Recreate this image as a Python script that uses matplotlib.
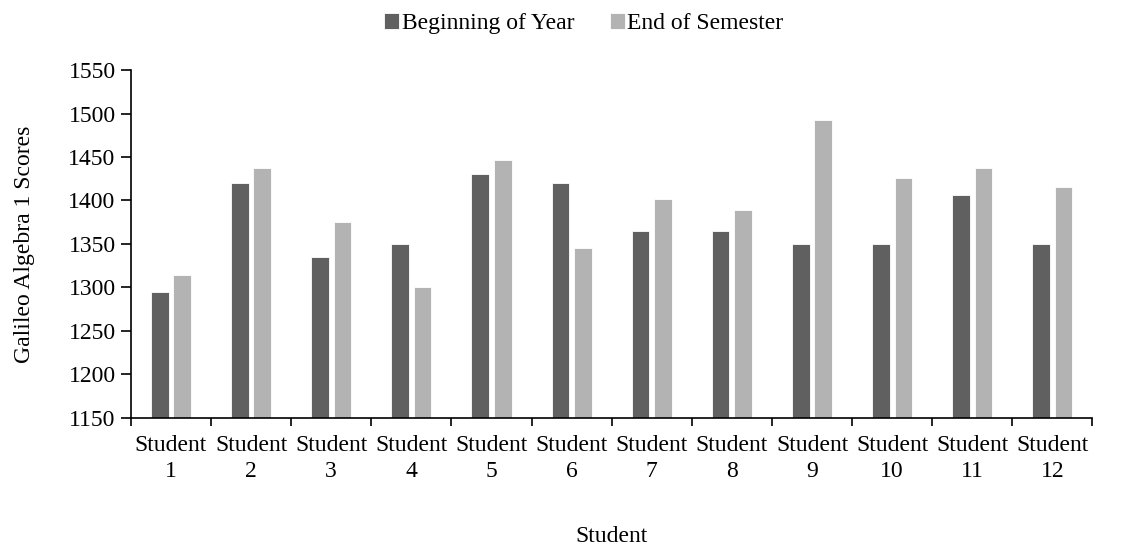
import numpy as np
import matplotlib
matplotlib.use('Agg')
import matplotlib.pyplot as plt

plt.rcParams['font.family'] = ['Liberation Serif', 'DejaVu Serif']

students = [f'Student\n{n}' for n in range(1, 13)]
beginning = [1295, 1420, 1335, 1350, 1431, 1420, 1365, 1365, 1350, 1350, 1406, 1350]
end_sem = [1314, 1437, 1375, 1300, 1447, 1345, 1402, 1389, 1492, 1426, 1437, 1415]
y_ticks = list(range(1150, 1551, 50))

fs = 17

fig = plt.figure(figsize=(11.38, 5.47), dpi=100)
ax = fig.add_axes([0.115, 0.236, 0.845, 0.636])

x = np.arange(len(students))
w = 0.22
ax.bar(x - 0.14, beginning, w, color='#606060', edgecolor='white', linewidth=0.6,
       label='Beginning of Year')
ax.bar(x + 0.14, end_sem, w, color='#b3b3b3', edgecolor='white', linewidth=0.6,
       label='End of Semester')

ax.set_ylim(1150, 1550)
ax.set_xlim(-0.5, len(students) - 0.5)
ax.set_yticks(y_ticks)
ax.tick_params(axis='y', labelsize=fs, direction='out', length=7, width=1.2, pad=4)

ax.set_xticks(np.arange(-0.5, len(students), 1))
ax.set_xticklabels([])
ax.tick_params(axis='x', which='major', direction='out', length=6, width=1.2)
ax.set_xticks(x, minor=True)
ax.set_xticklabels(students, minor=True, fontsize=fs, linespacing=1.35)
ax.tick_params(axis='x', which='minor', length=0, pad=12)

for side in ['top', 'right']:
    ax.spines[side].set_visible(False)
for side in ['left', 'bottom']:
    ax.spines[side].set_linewidth(1.2)

ax.set_xlabel('Student', fontsize=fs)
ax.xaxis.set_label_coords(0.5, -0.31)
ax.set_ylabel('Galileo Algebra 1 Scores', fontsize=fs)
ax.yaxis.set_label_coords(-0.1, 0.5)

fig.legend(loc='upper center', bbox_to_anchor=(0.513, 1.015), ncol=2, frameon=False,
           fontsize=fs, handlelength=0.65, handleheight=0.65, handletextpad=0.1,
           columnspacing=1.5)

fig.savefig('out.png', dpi=100)
